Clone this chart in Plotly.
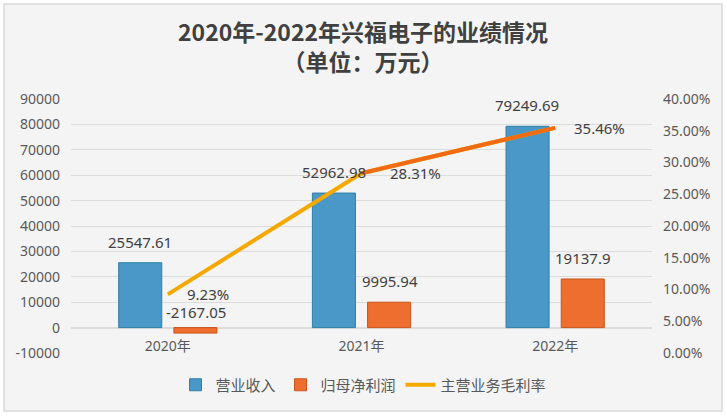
import plotly.graph_objects as go

categories = ["2020年", "2021年", "2022年"]
revenue = [25547.61, 52962.98, 79249.69]
net_profit = [-2167.05, 9995.94, 19137.9]
gross_margin = [0.0923, 0.2831, 0.3546]
margin_labels = ["9.23%", "28.31%", "35.46%"]
left_ticks = list(range(-10000, 90001, 10000))
left_ticktext = [str(v) for v in left_ticks]
right_ticks = [0, 0.05, 0.10, 0.15, 0.20, 0.25, 0.30, 0.35, 0.40]

FONT = "Noto Sans, Noto Sans CJK SC, sans-serif"
W, H = 727, 416
L, R, T, B = 71, 75, 99, 63
pw, ph = W - L - R, H - T - B

fig = go.Figure()
fig.add_trace(go.Bar(
    x=categories, y=revenue, name="营业收入",
    marker=dict(color="#4A98C8", line=dict(color="#2F7FA6", width=1)),
))
fig.add_trace(go.Bar(
    x=categories, y=net_profit, name="归母净利润",
    marker=dict(color="#EE6E30", line=dict(color="#C9541A", width=1)),
))
fig.add_trace(go.Scatter(
    x=categories, y=gross_margin, name="主营业务毛利率", yaxis="y2",
    mode="lines", line=dict(color="#F5A800", width=4),
))
fig.add_trace(go.Scatter(
    x=categories[1:], y=gross_margin[1:], yaxis="y2", showlegend=False,
    mode="lines", line=dict(color="#F06B12", width=4), hoverinfo="skip",
))

LBL = dict(family=FONT, size=15, color="#404040")
annotations = []
for i, c in enumerate(categories):
    annotations.append(dict(
        x=c, y=max(revenue[i], 0), xref="x", yref="y", text=str(revenue[i]),
        showarrow=False, yanchor="bottom", yshift=9, xshift=-28, font=LBL))
    annotations.append(dict(
        x=c, y=max(net_profit[i], 0), xref="x", yref="y", text=str(net_profit[i]),
        showarrow=False, yanchor="bottom", yshift=4 if net_profit[i] < 0 else 9,
        xshift=28, font=LBL))
    annotations.append(dict(
        x=c, y=gross_margin[i], xref="x", yref="y2", text=margin_labels[i],
        showarrow=False, xanchor="left", xshift=17 if i != 1 else 26, yshift=0,
        font=LBL))

TITLE = dict(family="Noto Sans CJK SC", size=23, color="#404040")
annotations.append(dict(
    text="<b>2020年-2022年兴福电子的业绩情况<br>（单位：万元）</b>",
    xref="paper", yref="paper",
    x=(0.5 * W - L) / pw, y=1 + (T - 46) / ph, showarrow=False,
    xanchor="center", yanchor="middle", align="center", font=TITLE))

shapes = [dict(
    type="rect", xref="paper", yref="paper", layer="below",
    x0=(4 - L) / pw, x1=(722 - L) / pw, y0=-(411 - T - ph) / ph, y1=1 + (T - 4) / ph,
    fillcolor="#F4F4F4", line=dict(color="#D9D9D9", width=1.5))]

fig.update_layout(
    width=W, height=H, margin=dict(l=L, r=R, t=T, b=B),
    paper_bgcolor="white", plot_bgcolor="#F4F4F4",
    barmode="group", bargap=0.43, bargroupgap=0.22,
    font=dict(family=FONT, size=14, color="#595959"),
    xaxis=dict(anchor="free", position=0.1, showgrid=False, showline=False,
               tickfont=dict(size=14, color="#595959"), ticks="",
               ticklabelstandoff=8),
    yaxis=dict(range=[-10000, 90000], tickvals=left_ticks, ticktext=left_ticktext,
               showgrid=True, gridcolor="#DCDCDC", gridwidth=1, zeroline=True,
               zerolinecolor="#DCDCDC", tickfont=dict(size=14, color="#595959"),
               ticks="", ticklabelstandoff=10),
    yaxis2=dict(range=[0, 0.4], tickvals=right_ticks, tickformat=".2%", overlaying="y",
                side="right", showgrid=False, zeroline=False,
                tickfont=dict(size=14, color="#595959"), ticklabelstandoff=10),
    legend=dict(orientation="h", x=(0.5 * W - L) / pw, xanchor="center",
                y=-(385 - T - ph) / ph, yanchor="middle",
                font=dict(size=15, color="#595959"),
                bgcolor="rgba(0,0,0,0)", itemwidth=30, tracegroupgap=0),
    showlegend=True,
    annotations=annotations, shapes=shapes,
)

fig.write_html("out.html", config={"displayModeBar": False},
               post_script="document.body.style.margin='0';document.body.style.overflow='hidden';")
